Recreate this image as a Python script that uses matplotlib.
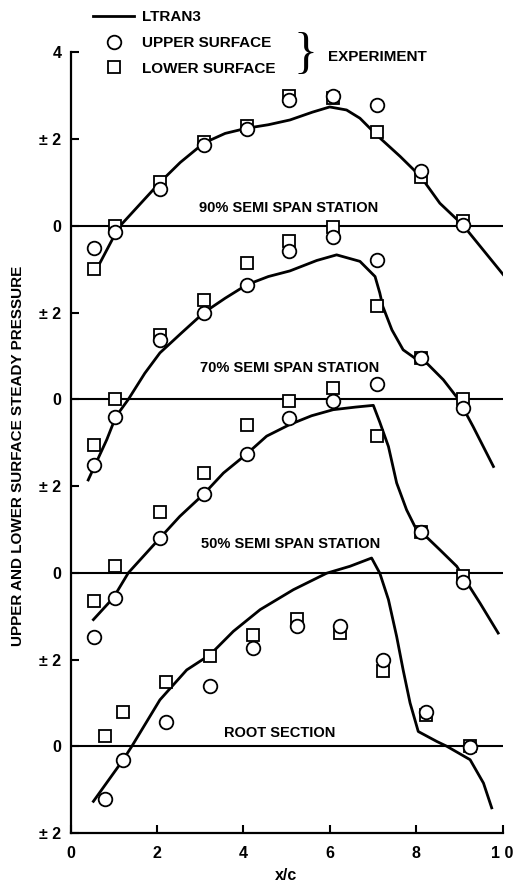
import matplotlib
matplotlib.use("Agg")
import matplotlib.pyplot as plt

plt.rcParams['font.family'] = ['Liberation Sans', 'DejaVu Sans']
plt.rcParams['font.weight'] = 'bold'
plt.rcParams['axes.labelweight'] = 'bold'

# chordwise stations of the pressure taps (x/c scaled by 10)
x_tip = [0.55, 1.03, 2.07, 3.09, 4.08, 5.06, 6.08, 7.09, 8.11, 9.09]
x_root = [0.81, 1.21, 2.21, 3.22, 4.23, 5.24, 6.24, 7.23, 8.23, 9.25]

# experiment, 90% semi span
upper_90 = [-0.51, -0.14, 0.85, 1.87, 2.23, 2.90, 3.00, 2.79, 1.27, 0.02]
lower_90 = [-0.99, 0.00, 1.00, 1.94, 2.30, 3.00, 2.94, 2.17, 1.13, 0.10]
# experiment, 70% semi span
upper_70 = [-1.51, -0.40, 1.36, 2.00, 2.64, 3.41, 3.75, 3.21, 0.95, -0.20]
lower_70 = [-1.05, 0.00, 1.49, 2.29, 3.14, 3.64, 3.98, 2.15, 0.95, 0.00]
# experiment, 50% semi span
upper_50 = [-1.47, -0.58, 0.80, 1.82, 2.74, 3.56, 3.96, 4.35, 0.95, -0.22]
lower_50 = [-0.66, 0.16, 1.41, 2.30, 3.40, 3.96, 4.25, 3.16, 0.95, -0.07]
# experiment, root section
upper_root = [-1.21, -0.31, 0.55, 1.40, 2.27, 2.78, 2.78, 2.00, 0.80, -0.01]
lower_root = [0.24, 0.80, 1.48, 2.09, 2.56, 2.93, 2.60, 1.73, 0.73, 0.00]

# LTRAN3 predictions
ltran_x_90 = [0.57, 0.68, 1.05, 1.15, 2.07, 2.54, 3.09, 3.58, 4.08, 4.58, 5.08,
              5.60, 6.00, 6.39, 6.70, 7.09, 7.63, 8.11, 8.55, 9.09, 10.02]
ltran_y_90 = [-0.98, -0.86, -0.16, 0.00, 1.00, 1.46, 1.91, 2.13, 2.25, 2.33, 2.44,
              2.62, 2.74, 2.67, 2.48, 2.09, 1.60, 1.13, 0.52, 0.01, -1.13]
ltran_x_70 = [0.41, 0.84, 1.05, 1.34, 1.72, 2.07, 2.57, 3.09, 3.58, 4.08, 4.58,
              5.08, 5.70, 6.16, 6.70, 7.05, 7.16, 7.23, 7.44, 7.70, 7.97, 8.25,
              8.63, 8.98, 9.32, 9.79]
ltran_y_70 = [-1.86, -0.93, -0.40, 0.00, 0.60, 1.07, 1.53, 2.00, 2.33, 2.64, 2.83,
              2.96, 3.20, 3.33, 3.18, 2.83, 2.45, 2.14, 1.60, 1.14, 0.95, 0.83,
              0.45, 0.00, -0.63, -1.55]
ltran_x_50 = [0.53, 0.99, 1.34, 2.07, 2.53, 3.09, 3.54, 4.08, 4.54, 5.08, 5.58,
              6.08, 6.60, 7.01, 7.16, 7.36, 7.55, 7.78, 7.97, 8.11, 8.55, 8.94,
              9.09, 9.48, 9.90]
ltran_y_50 = [-1.08, -0.58, 0.00, 0.80, 1.30, 1.82, 2.30, 2.74, 3.15, 3.42, 3.62,
              3.76, 3.82, 3.86, 3.47, 2.91, 2.07, 1.45, 1.07, 0.95, 0.53, 0.15,
              -0.09, -0.70, -1.39]
ltran_x_root = [0.53, 1.22, 1.42, 2.07, 2.69, 3.23, 3.77, 4.39, 5.16, 5.93, 6.47,
                6.97, 7.16, 7.36, 7.55, 7.70, 7.86, 8.05, 8.48, 8.71, 9.25, 9.56,
                9.75]
ltran_y_root = [-1.27, -0.31, 0.00, 1.07, 1.76, 2.11, 2.65, 3.15, 3.61, 3.99, 4.15,
                4.34, 3.99, 3.38, 2.53, 1.76, 1.00, 0.34, 0.11, 0.00, -0.31, -0.85,
                -1.42]

station_names = ["90% SEMI SPAN STATION", "70% SEMI SPAN STATION",
                 "50% SEMI SPAN STATION", "ROOT SECTION"]
y_ticks = [4, 2, 0, -2, -4, -6, -8, -10, -12, -14]
y_tick_labels = ["4", "\u00b1 2", "0", "\u00b1 2", "0", "\u00b1 2", "0",
                 "\u00b1 2", "0", "\u00b1 2"]
x_ticks = [0, 2, 4, 6, 8, 10]
x_tick_labels = ["0", "2", "4", "6", "8", "1 0"]

stations = [
    (x_tip, upper_90, lower_90, ltran_x_90, ltran_y_90),
    (x_tip, upper_70, lower_70, ltran_x_70, ltran_y_70),
    (x_tip, upper_50, lower_50, ltran_x_50, ltran_y_50),
    (x_root, upper_root, lower_root, ltran_x_root, ltran_y_root),
]
# each station is stacked on its own zero line
offsets = [0, -4, -8, -12]
label_pos = [(5.06, 0.42), (5.08, 0.73), (5.10, 0.67), (4.85, 0.30)]

fig = plt.figure(figsize=(5.16, 8.83), dpi=100)
ax = fig.add_axes([70.5 / 516, 50 / 883, 432 / 516, 780.7 / 883])

handles = None
for (xs, up, lo, lx, ly), off, name, (tx, ty) in zip(stations, offsets,
                                                     station_names, label_pos):
    ax.axhline(off, color='black', lw=1.5, zorder=1)
    line, = ax.plot(lx, [v + off for v in ly], color='black', lw=2.0,
                    zorder=2, label='LTRAN3')
    sq, = ax.plot(xs, [v + off for v in lo], ls='none', marker='s',
                  ms=8.5, mfc='white', mec='black', mew=1.3, zorder=3,
                  label='LOWER SURFACE')
    ci, = ax.plot(xs, [v + off for v in up], ls='none', marker='o',
                  ms=9.8, mfc='white', mec='black', mew=1.3, zorder=4,
                  label='UPPER SURFACE')
    ax.text(tx, off + ty, name, ha='center', va='center', fontsize=10.5)
    if handles is None:
        handles = [line, ci, sq]

ax.set_xlim(0, 10)
ax.set_ylim(-14, 4)
ax.set_xticks(x_ticks)
ax.set_xticklabels(x_tick_labels)
ax.set_yticks(y_ticks)
ax.set_yticklabels(y_tick_labels)
ax.tick_params(axis='both', direction='in', length=6, width=1.5,
               labelsize=11.5)
ax.tick_params(axis='x', pad=9.5)
ax.tick_params(axis='y', pad=6.5)
for side in ['top', 'right']:
    ax.spines[side].set_visible(False)
for side in ['left', 'bottom']:
    ax.spines[side].set_linewidth(1.6)

ax.set_xlabel("x/c", fontsize=11.5, labelpad=5)
ax.set_ylabel("UPPER AND LOWER SURFACE STEADY PRESSURE", fontsize=11)
ax.yaxis.set_label_coords(-0.105, 0.483)

ax.legend(handles=handles, labels=[h.get_label() for h in handles],
          loc='upper left', bbox_to_anchor=(93 / 516, 1 - 10 / 883),
          bbox_transform=fig.transFigure, frameon=False, fontsize=11,
          borderpad=0, borderaxespad=0, handlelength=2.7,
          handletextpad=0.5, labelspacing=0.78)
# brace grouping the two experiment entries
fig.text(305 / 516, 1 - 55 / 883, "}", fontsize=36, fontweight='normal',
         family='Liberation Serif', ha='center', va='center')
fig.text(328 / 516, 1 - 57 / 883, "EXPERIMENT", fontsize=11,
         ha='left', va='center')

fig.savefig("out.png", dpi=100)
